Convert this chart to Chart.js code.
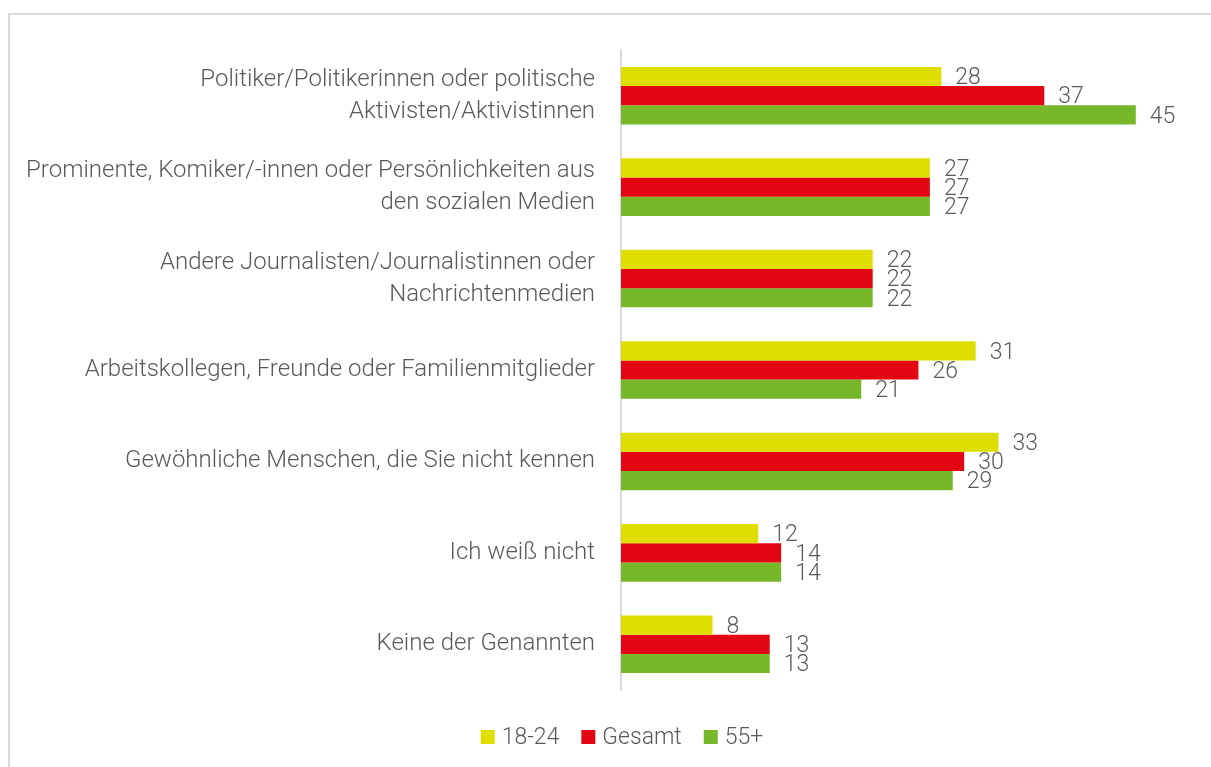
<!DOCTYPE html>
<html>
<head>
<meta charset="utf-8">
<script src="https://cdn.jsdelivr.net/npm/chart.js@4.4.1/dist/chart.umd.min.js"></script>
<style>
  html, body { margin: 0; padding: 0; background: #fff; overflow: hidden; }
  #frame { position: absolute; left: 8px; top: 13px; width: 1400px; height: 900px; border: 2px solid #d9d9d9; }
  #wrap { position: absolute; left: 0; top: 0; width: 1211px; height: 767px; }
</style>
</head>
<body>
<div id="frame"></div>
<div id="wrap"><canvas id="chart1"></canvas></div>
<script>
// Kategorien
const categories = [
  ['Politiker/Politikerinnen oder politische', 'Aktivisten/Aktivistinnen'],
  ['Prominente, Komiker/-innen oder Persönlichkeiten aus', 'den sozialen Medien'],
  ['Andere Journalisten/Journalistinnen oder', 'Nachrichtenmedien'],
  'Arbeitskollegen, Freunde oder Familienmitglieder',
  'Gewöhnliche Menschen, die Sie nicht kennen',
  'Ich weiß nicht',
  'Keine der Genannten'
];

// Werte je Gruppe
const series1824 = [28, 27, 22, 31, 33, 12, 8];
const seriesGesamt = [37, 27, 22, 26, 30, 14, 13];
const series55 = [45, 27, 22, 21, 29, 14, 13];

const fontFamily = "Roboto, 'Liberation Sans Narrow', sans-serif";
const textColor = '#595959';

// Wertbeschriftungen rechts neben den Balken
const valueLabels = {
  id: 'valueLabels',
  afterDatasetsDraw(chart) {
    const ctx = chart.ctx;
    ctx.save();
    ctx.font = '300 23px ' + fontFamily;
    ctx.fillStyle = textColor;
    ctx.textAlign = 'left';
    ctx.textBaseline = 'middle';
    chart.data.datasets.forEach((ds, i) => {
      chart.getDatasetMeta(i).data.forEach((bar, j) => {
        ctx.fillText(ds.data[j], bar.x + 14, bar.y + 2);
      });
    });
    ctx.restore();
  }
};

// Legende unten, mittig bei x=622
const bottomLegend = {
  id: 'bottomLegend',
  afterDraw(chart) {
    const ctx = chart.ctx;
    ctx.save();
    ctx.font = '300 23px ' + fontFamily;
    ctx.textBaseline = 'middle';
    ctx.textAlign = 'left';
    const box = 14, gap = 7, itemGap = 22, y = 737;
    const items = chart.data.datasets.map(ds => ({ label: ds.label, color: ds.backgroundColor, w: ctx.measureText(ds.label).width }));
    let total = items.reduce((s, it) => s + box + gap + it.w, 0) + itemGap * (items.length - 1);
    let x = 622 - total / 2;
    items.forEach(it => {
      ctx.fillStyle = it.color;
      ctx.fillRect(x, y - box / 2, box, box);
      ctx.fillStyle = textColor;
      ctx.fillText(it.label, x + box + gap, y + 1);
      x += box + gap + it.w + itemGap;
    });
    ctx.restore();
  }
};

const chart1Config = {
  type: 'bar',
  data: {
    labels: categories,
    datasets: [
      { label: '18-24', data: series1824, backgroundColor: '#dede00' },
      { label: 'Gesamt', data: seriesGesamt, backgroundColor: '#e30613' },
      { label: '55+', data: series55, backgroundColor: '#76b82a' }
    ]
  },
  options: {
    indexAxis: 'y',
    responsive: true,
    maintainAspectRatio: false,
    animation: false,
    categoryPercentage: 0.63,
    barPercentage: 1.0,
    layout: { padding: { top: 50, right: 18, bottom: 77, left: 0 } },
    plugins: {
      tooltip: { enabled: false },
      legend: { display: false }
    },
    scales: {
      x: {
        display: false,
        min: 0,
        max: 50
      },
      y: {
        afterFit: (s) => { s.width = 621; },
        grid: { display: false, drawTicks: false },
        border: { color: '#d9d9d9', width: 2 },
        ticks: {
          padding: 26,
          color: textColor,
          font: { family: fontFamily, size: 24, weight: 300, lineHeight: 1.333 }
        }
      }
    }
  },
  plugins: [valueLabels, bottomLegend]
};

function renderCharts() {
  const chart1Canvas = document.getElementById('chart1');
  new Chart(chart1Canvas, chart1Config);
}

renderCharts();
</script>
</body>
</html>
